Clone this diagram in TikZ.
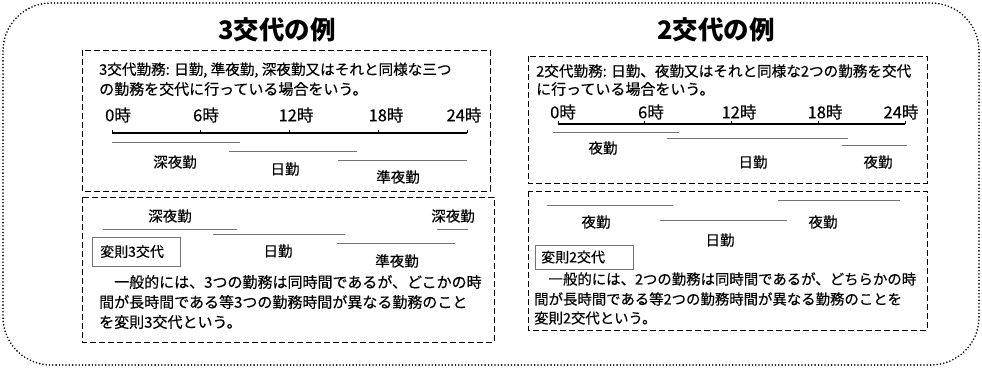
\documentclass[tikz,border=0pt]{standalone}
\usepackage{fontspec}
\setmainfont{Noto Sans CJK JP}
\newfontfamily\jpm[FakeBold=0.4]{Noto Sans CJK JP}
\begin{document}
\begin{tikzpicture}[x=1pt,y=-1pt,
  outerframe/.style={line width=1.8pt, dash pattern=on 0pt off 3.3pt, line cap=round, rounded corners=48pt},
  dbox/.style={line width=0.8pt, dash pattern=on 6pt off 3pt},
  title/.style={font=\bfseries\fontsize{25.5}{28}\selectfont, inner sep=0},
  body/.style={font=\jpm\fontsize{15}{18}\selectfont, inner sep=0, anchor=west},
  hour/.style={font=\jpm\fontsize{16.5}{18}\selectfont, inner sep=0},
  shiftlbl/.style={font=\jpm\fontsize{14.5}{16}\selectfont, inner sep=0},
  axis/.style={line width=1.3pt},
  bar/.style={line width=1pt, draw=black!55},
  tagbox/.style={draw=black!55, line width=1pt},
  tag/.style={font=\jpm\fontsize{14}{16}\selectfont, inner sep=0, anchor=west}]
\useasboundingbox (0,0) rectangle (982,369);
% outer frame
\draw[outerframe] (3,3) rectangle (979,365);

% ================= LEFT: 3交代 =================
\node[title] (t3) at (277,30) {3交代の例};
\draw[dbox] (82,50) rectangle (490,191);
\draw[dbox] (82,197) rectangle (494,342);
\node[body, font=\jpm\fontsize{14.6}{18}\selectfont] (d3a) at (99,70) {3交代勤務: 日勤, 準夜勤, 深夜勤又はそれと同様な三つ};
\node[body] (d3b) at (99,89) {の勤務を交代に行っている場合をいう。};
% hours
\node[hour] (h30) at (118,115) {0時};
\node[hour] (h36) at (206,115) {6時};
\node[hour] (h312) at (296,115) {12時};
\node[hour] (h318) at (386,115) {18時};
\node[hour] (h324) at (464,115) {24時};
% axis
\draw[axis] (112,133) -- (467,133);
\foreach \x in {112,200.75,289.5,378.25,467} \draw[line width=0.8pt] (\x,133) -- (\x,129.5);
% bars
\draw[bar] (112,142) -- (240,142);
\draw[bar] (229,151) -- (357,151);
\draw[bar] (338,160) -- (467,160);
\node[shiftlbl] (s3a) at (175,162) {深夜勤};
\node[shiftlbl] (s3b) at (285,169) {日勤};
\node[shiftlbl] (s3c) at (398,177) {準夜勤};
% irregular
\node[shiftlbl] (v3a) at (170,216) {深夜勤};
\node[shiftlbl] (v3b) at (453,216) {深夜勤};
\draw[bar] (103,229) -- (237,229);
\draw[bar] (437,229) -- (468,229);
\draw[bar] (213,234) -- (345,234);
\draw[bar] (337,243) -- (455,243);
\node[shiftlbl] (v3c) at (278,251) {日勤};
\node[shiftlbl] (v3d) at (397,261) {準夜勤};
\draw[tagbox] (92,237) rectangle (180,266);
\node[tag] (tag3) at (100,251.5) {変則3交代};
\node[body] (p3a) at (99,282) {　一般的には、3つの勤務は同時間であるが、どこかの時};
\node[body] (p3b) at (99,302) {間が長時間である等3つの勤務時間が異なる勤務のこと};
\node[body] (p3c) at (99,322) {を変則3交代という。};

% ================= RIGHT: 2交代 =================
\node[title] (t2) at (716,30) {2交代の例};
\draw[dbox] (528,56) rectangle (927,183);
\draw[dbox] (528,191) rectangle (927,330);
\node[body, font=\jpm\fontsize{14.6}{18}\selectfont] (d2a) at (536,71) {2交代勤務: 日勤、夜勤又はそれと同様な2つの勤務を交代};
\node[body] (d2b) at (536,89) {に行っている場合をいう。};
% hours
\node[hour] (h20) at (563,112) {0時};
\node[hour] (h26) at (651,112) {6時};
\node[hour] (h212) at (739,112) {12時};
\node[hour] (h218) at (825,112) {18時};
\node[hour] (h224) at (901,112) {24時};
\draw[axis] (558,124) -- (905,124);
\foreach \x in {558,644.75,731.5,818.25,905} \draw[line width=0.8pt] (\x,124) -- (\x,120.5);
\draw[bar] (553,132) -- (679,132);
\draw[bar] (667,138) -- (848,138);
\draw[bar] (842,145) -- (907,145);
\node[shiftlbl] (s2a) at (603,148) {夜勤};
\node[shiftlbl] (s2b) at (753,162) {日勤};
\node[shiftlbl] (s2c) at (878,162) {夜勤};
% irregular
\draw[bar] (547,205) -- (673,205);
\draw[bar] (778,200) -- (900,200);
\draw[bar] (660,220) -- (787,220);
\node[shiftlbl] (v2a) at (596,222) {夜勤};
\node[shiftlbl] (v2b) at (823,222) {夜勤};
\node[shiftlbl] (v2c) at (720,240) {日勤};
\draw[tagbox] (535,245) rectangle (633,269);
\node[tag] (tag2) at (541,257) {変則2交代};
\node[body, font=\jpm\fontsize{14.4}{18}\selectfont] (p2a) at (534,279) {　一般的には、2つの勤務は同時間であるが、どちらかの時};
\node[body, font=\jpm\fontsize{14.4}{18}\selectfont] (p2b) at (534,299) {間が長時間である等2つの勤務時間が異なる勤務のことを};
\node[body, font=\jpm\fontsize{14.4}{18}\selectfont] (p2c) at (534,318) {変則2交代という。};
\end{tikzpicture}
\end{document}
